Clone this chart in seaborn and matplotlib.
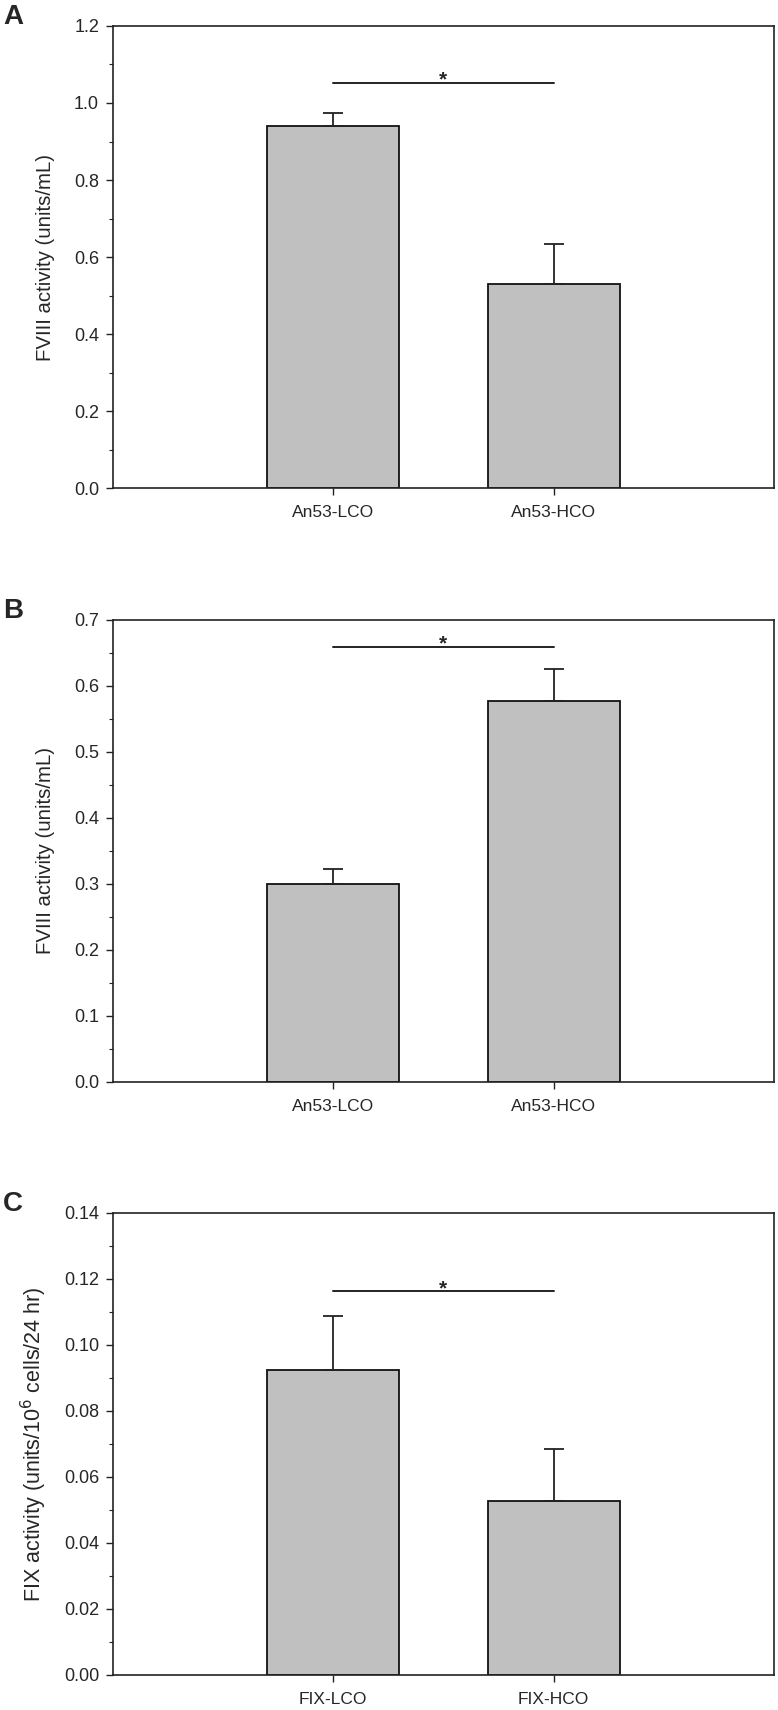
import seaborn as sns
import matplotlib.pyplot as plt
from matplotlib.ticker import MultipleLocator

# panel A: FVIII activity, An53 constructs
a_groups = ['An53-LCO', 'An53-HCO']
a_means = [0.940, 0.529]
a_errs = [0.035, 0.105]

# panel B: FVIII activity, An53 constructs
b_groups = ['An53-LCO', 'An53-HCO']
b_means = [0.300, 0.577]
b_errs = [0.023, 0.048]

# panel C: FIX activity
c_groups = ['FIX-LCO', 'FIX-HCO']
c_means = [0.0923, 0.0527]
c_errs = [0.0166, 0.0159]

sns.set_style('ticks')
plt.rcParams['font.family'] = ['Liberation Sans', 'DejaVu Sans']

fig = plt.figure(figsize=(7.78, 17.10), dpi=100)

panels = [
    ('A', a_groups, a_means, a_errs, (0, 1.2), 0.2, '%.1f', 'FVIII activity (units/mL)', 1.052, 0.7146),
    ('B', b_groups, b_means, b_errs, (0, 0.7), 0.1, '%.1f', 'FVIII activity (units/mL)', 0.659, 0.3673),
    ('C', c_groups, c_means, c_errs, (0, 0.14), 0.02, '%.2f', r'FIX activity (units/10$^6$ cells/24 hr)', 0.1162, 0.0205),
]

for letter, groups, means, errs, ylim, step, fmt, ylabel, sig_y, bottom in panels:
    ax = fig.add_axes([0.1452, bottom, 0.8496, 0.2702])
    sns.barplot(x=groups, y=means, color='#c0c0c0', edgecolor='#111111',
                linewidth=1.3, width=0.6, saturation=1, errorbar=None, ax=ax)
    ax.errorbar(range(len(groups)), means, yerr=[[0] * len(errs), errs], fmt='none',
                ecolor='#222222', elinewidth=1.3, capsize=7.5, capthick=1.3)
    ax.plot([0, 1], [sig_y, sig_y], color='#222222', lw=1.4)
    ax.annotate('*', (0.5, sig_y), xytext=(0, -2), textcoords='offset points',
                ha='center', va='baseline', fontsize=15, fontweight='bold')

    ax.set_xlim(-1, 2)
    ax.set_ylim(*ylim)
    ax.yaxis.set_major_locator(MultipleLocator(step))
    ax.yaxis.set_minor_locator(MultipleLocator(step / 2))
    ax.yaxis.set_major_formatter(plt.FormatStrFormatter(fmt))
    ax.tick_params(axis='y', which='major', length=5, width=1, labelsize=13, pad=5, color='#222222')
    ax.tick_params(axis='y', which='minor', length=3, width=0.8, color='#222222')
    ax.tick_params(axis='x', length=5, width=1, labelsize=12.5, pad=7, color='#222222')
    for s in ax.spines.values():
        s.set_visible(True)
        s.set_linewidth(1.2)
        s.set_color('#222222')

    if letter == 'C':
        ax.set_ylabel(ylabel, fontsize=15.5)
        ax.yaxis.set_label_coords(-0.097, 0.5)
    else:
        ax.set_ylabel(ylabel, fontsize=14.7)
        ax.yaxis.set_label_coords(-0.087, 0.5)
    ax.set_xlabel('')

    top_px = (1 - (bottom + 0.2702)) * 1710
    fig.text(0.004, 1 - (top_px - 22) / 1710, letter, fontsize=20, fontweight='bold', va='top', ha='left')

plt.savefig('out.png', dpi=100)
